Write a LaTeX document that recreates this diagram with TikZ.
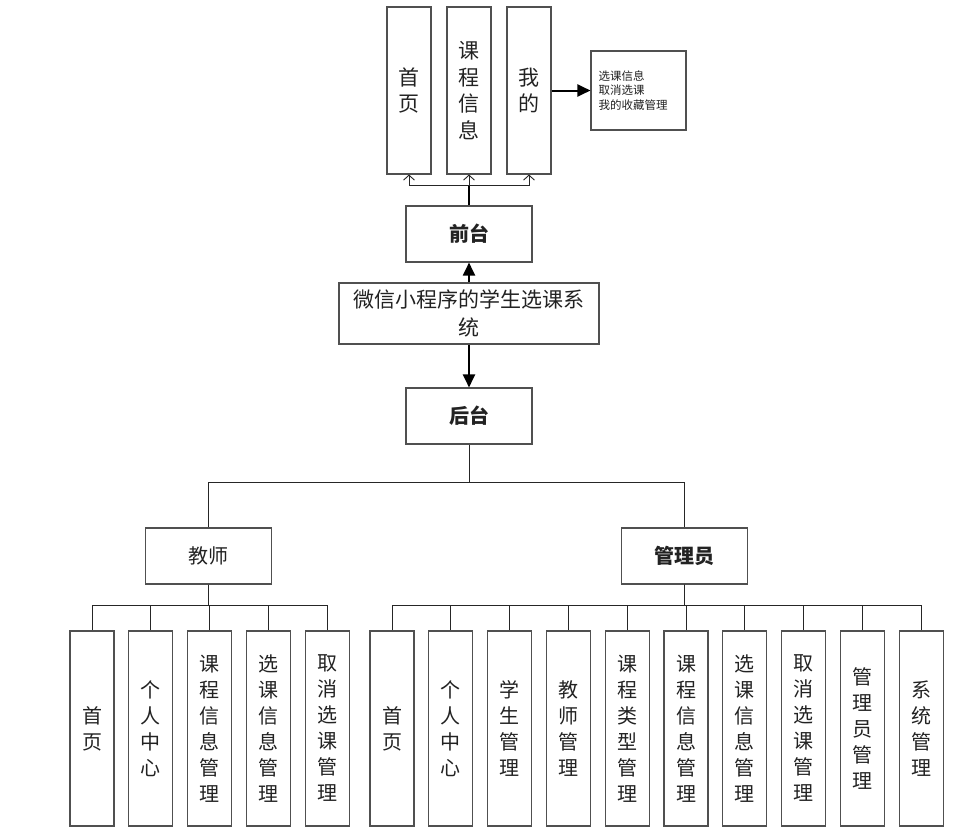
\documentclass[tikz,border=0pt]{standalone}
\usepackage{fontspec}
\usetikzlibrary{arrows.meta}
\newfontfamily\cjk{Noto Sans CJK SC}
\definecolor{boxgray}{HTML}{505050}
\definecolor{textgray}{HTML}{222222}

\begin{document}
\begin{tikzpicture}[x=1pt,y=-1pt,
		box/.style={draw=boxgray,line width=1.1pt,inner sep=0pt,text=textgray,align=center,font=\cjk\fontsize{20}{26}\selectfont},
		head/.style={box,minimum width=126pt,minimum height=56pt,font=\cjk\bfseries\fontsize{20}{24}\selectfont},
		plainhead/.style={head,font=\cjk\fontsize{20}{24}\selectfont},
		leaf/.style={box,minimum width=44pt,minimum height=195pt},
		topleaf/.style={box,minimum width=44pt,minimum height=167pt,font=\cjk\fontsize{21}{26.5}\selectfont},
		link/.style={draw=black!85,line width=0.9pt},
		biglink/.style={draw=black,line width=2pt},
		bigarrow/.style={biglink,-{Triangle[length=13pt,width=12pt]}},
		openarrow/.style={link,-{Straight Barb[length=5pt,width=11pt]}}]
	\useasboundingbox (0,0) rectangle (976,836);
	% front end
	\node[topleaf] (home) at (409,90.5) {首\\页};
	\node[topleaf] (course) at (469,90.5) {课\\程\\信\\息};
	\node[topleaf] (mine) at (529,90.5) {我\\的};
	\node[box,minimum width=95pt,minimum height=79pt,text width=80pt,align=left,font=\cjk\fontsize{11.5}{14.5}\selectfont] (minelist) at (638.5,90.5) {选课信息\\取消选课\\我的收藏管理};
	\node[head] (qiantai) at (469,234) {前台};
	\node[box,minimum width=260pt,minimum height=61pt,font=\cjk\fontsize{21}{28}\selectfont] (sys) at (469,313.5) {微信小程序的学生选课系\\统};
	\node[head] (houtai) at (469,416) {后台};
	\coordinate (ffork) at (469,185);
	\draw[biglink] (qiantai.north) -- (ffork);
	\draw[openarrow] (ffork) -- (course.south);
	\draw[openarrow] (ffork) -| (home.south);
	\draw[openarrow] (ffork) -| (mine.south);
	\draw[bigarrow] (mine.east |- minelist.west) -- (minelist.west);
	\draw[bigarrow] (sys.north) -- (qiantai.south);
	\draw[bigarrow] (sys.south) -- (houtai.north);
	% back end
	\node[plainhead] (teacher) at (208.5,556) {教师};
	\node[head] (admin) at (684.5,556) {管理员};
	\coordinate (bfork) at (469,482);
	\draw[link] (houtai.south) -- (bfork) -| (teacher.north);
	\draw[link] (bfork) -| (admin.north);
	\coordinate (tfork) at (208.5,605);
	\coordinate (afork) at (684.5,605);
	\foreach \txt [count=\i from 0] in {首\\页,个\\人\\中\\心,课\\程\\信\\息\\管\\理,选\\课\\信\\息\\管\\理,取\\消\\选\\课\\管\\理}{
		\node[leaf] (t\i) at (92+58.8*\i,728.5) {\txt};
		\draw[link] (teacher.south) -- (tfork) -| (t\i.north);
	}
	\foreach \txt [count=\i from 0] in {首\\页,个\\人\\中\\心,学\\生\\管\\理,教\\师\\管\\理,课\\程\\类\\型\\管\\理,课\\程\\信\\息\\管\\理,选\\课\\信\\息\\管\\理,取\\消\\选\\课\\管\\理,管\\理\\员\\管\\理,系\\统\\管\\理}{
		\node[leaf] (a\i) at (392+58.8*\i,728.5) {\txt};
		\draw[link] (admin.south) -- (afork) -| (a\i.north);
	}
\end{tikzpicture}
\end{document}
